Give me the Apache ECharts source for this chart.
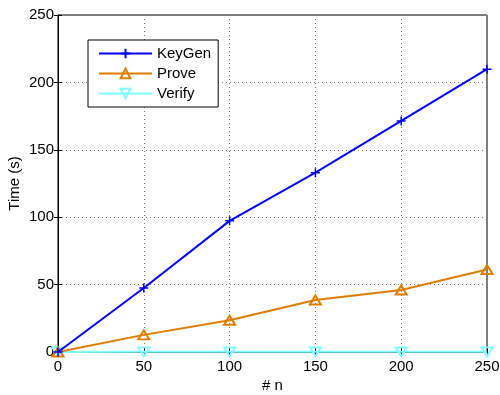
<!DOCTYPE html>
<html>
<head>
<meta charset="utf-8">
<script src="https://cdn.jsdelivr.net/npm/echarts@6/dist/echarts.min.js"></script>
<style>
  html, body { margin: 0; padding: 0; background: #fff; }
  #chart { width: 500px; height: 395px; }
</style>
</head>
<body>
<div id="chart"></div>
<script>
// Running time versus number of items n
const nValues = [0, 50, 100, 150, 200, 250];
const keyGenTimes = [0, 47.5, 97.3, 133, 171.4, 209.8];
const proveTimes = [0, 12.7, 23.6, 38.6, 46, 61.2];
const verifyTimes = [0, 0.1, 0.1, 0.1, 0.1, 0.1];
const xTicks = [0, 50, 100, 150, 200, 250];
const yTicks = [0, 50, 100, 150, 200, 250];

const FONT = '"Liberation Sans", Arial, Helvetica, sans-serif';
const pairs = (ys) => nValues.map((x, i) => [x, ys[i]]);

const chart = echarts.init(document.getElementById('chart'), null, { renderer: 'canvas' });

const dotted = { show: true, lineStyle: { color: '#777', type: [1, 3], width: 1 } };
const tickLbl = { color: '#000', fontFamily: FONT, fontSize: 15 };

const option = {
  animation: false,
  backgroundColor: '#fff',
  grid: {
    left: 58, right: 13, top: 15, bottom: 43,
    containLabel: false, outerBoundsMode: 'none',
    show: true, borderColor: '#000', borderWidth: 1, backgroundColor: 'transparent'
  },
  legend: {
    left: 88, top: 40, orient: 'vertical',
    itemWidth: 53, itemHeight: 12, itemGap: 5,
    padding: [6, 7, 6, 10],
    borderColor: '#000', borderWidth: 1, backgroundColor: '#fff',
    textStyle: { color: '#000', fontFamily: FONT, fontSize: 15 },
    data: ['KeyGen', 'Prove', 'Verify']
  },
  xAxis: [
    {
      type: 'value', min: 0, max: 250, interval: 50,
      name: '# n', nameLocation: 'middle', nameGap: 26, nameMoveOverlap: false,
      nameTextStyle: { color: '#000', fontFamily: FONT, fontSize: 15 },
      axisLine: { show: true, lineStyle: { color: '#000' } },
      axisTick: { show: true, inside: true, length: 4, lineStyle: { color: '#000' } },
      axisLabel: Object.assign({ margin: 7, formatter: (v) => xTicks.includes(v) ? String(v) : '' }, tickLbl),
      splitLine: dotted
    },
    {
      type: 'value', min: 0, max: 250, interval: 50, position: 'top',
      axisLine: { show: true, lineStyle: { color: '#000' } },
      axisTick: { show: true, inside: true, length: 4, lineStyle: { color: '#000' } },
      axisLabel: { show: false }, splitLine: { show: false }
    }
  ],
  yAxis: [
    {
      type: 'value', min: 0, max: 250, interval: 50,
      name: 'Time (s)', nameLocation: 'middle', nameGap: 36, nameRotate: 90, nameMoveOverlap: false,
      nameTextStyle: { color: '#000', fontFamily: FONT, fontSize: 15 },
      axisLine: { show: true, lineStyle: { color: '#000' } },
      axisTick: { show: true, inside: true, length: 4, lineStyle: { color: '#000' } },
      axisLabel: Object.assign({ margin: 4, formatter: (v) => yTicks.includes(v) ? String(v) : '' }, tickLbl),
      splitLine: dotted
    },
    {
      type: 'value', min: 0, max: 250, interval: 50, position: 'right',
      axisLine: { show: true, lineStyle: { color: '#000' } },
      axisTick: { show: true, inside: true, length: 4, lineStyle: { color: '#000' } },
      axisLabel: { show: false }, splitLine: { show: false }
    }
  ],
  series: [
    {
      name: 'KeyGen', type: 'line', data: pairs(keyGenTimes),
      symbol: 'path://M5,0 L5,10 M0,5 L10,5', symbolSize: 9,
      lineStyle: { color: '#0000ff', width: 2 },
      itemStyle: { color: 'none', borderColor: '#0000ff', borderWidth: 1.5 },
      z: 4
    },
    {
      name: 'Prove', type: 'line', data: pairs(proveTimes),
      symbol: 'path://M5,0 L10,9 L0,9 Z', symbolSize: [11, 10], symbolKeepAspect: true,
      lineStyle: { color: '#de7d00', width: 2 },
      itemStyle: { color: 'none', borderColor: '#de7d00', borderWidth: 2 },
      z: 3
    },
    {
      name: 'Verify', type: 'line', data: pairs(verifyTimes),
      symbol: 'path://M0,0 L10,0 L5,9 Z', symbolSize: [11, 10], symbolKeepAspect: true,
      lineStyle: { color: '#7fffff', width: 2 },
      itemStyle: { color: 'none', borderColor: '#7fffff', borderWidth: 2 },
      z: 2
    }
  ]
};

chart.setOption(option);
</script>
</body>
</html>
